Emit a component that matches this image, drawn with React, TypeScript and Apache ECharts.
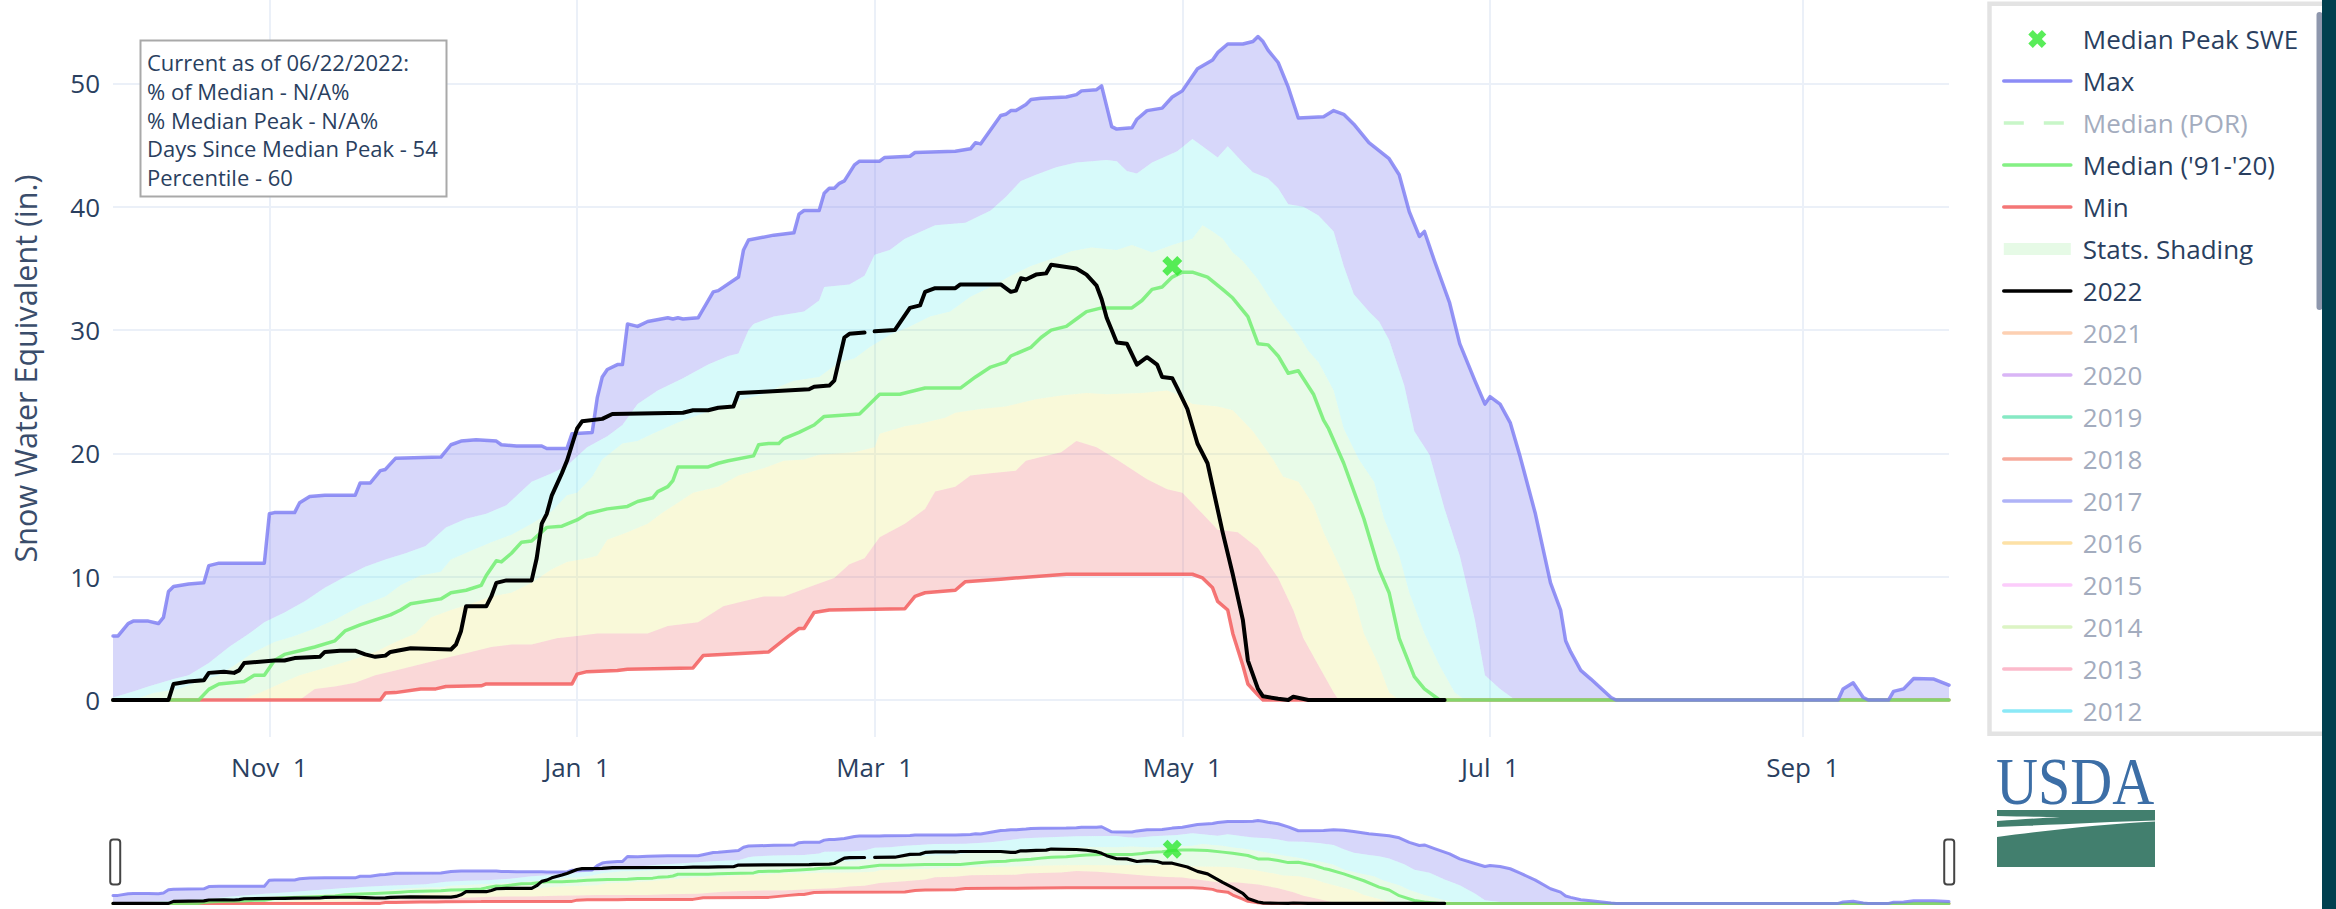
import React, { useEffect, useRef } from 'react';
import * as echarts from 'echarts';

// ---------- categories: every day of water year 2022 (Oct 1 2021 – Sep 30 2022)
const WY_START_UTC = Date.UTC(2021, 9, 1);
const DAY_MS = 86400000;
const dates: string[] = Array.from({ length: 365 }, (_, i) =>
  new Date(WY_START_UTC + i * DAY_MS).toISOString().slice(0, 10)
);

const xTickDates = ['2021-11-01', '2022-01-01', '2022-03-01', '2022-05-01', '2022-07-01', '2022-09-01'];
const xTickLabels = ['Nov\u00a0\u00a01', 'Jan\u00a0\u00a01', 'Mar\u00a0\u00a01', 'May\u00a0\u00a01', 'Jul\u00a0\u00a01', 'Sep\u00a0\u00a01'];
const yTickValues = [0, 10, 20, 30, 40, 50];

// ---------- series: [day index since Oct 1 2021, SWE inches]
const maxSwe: [number, number][] = [
  [0, 5.2], [1, 5.2], [3, 6.2], [4, 6.4], [7, 6.4], [9, 6.2], [10, 6.7], [11, 8.8], [12, 9.2], [15, 9.4], [18, 9.5],
  [19, 10.9], [21, 11.1], [30, 11.1], [31, 15.1], [32, 15.2], [36, 15.2], [37, 16.0], [39, 16.5], [42, 16.6], [48, 16.6],
  [49, 17.6], [51, 17.6], [53, 18.6], [54, 18.7], [56, 19.6], [65, 19.7], [67, 20.7], [69, 21.0], [72, 21.1], [76, 21.0],
  [77, 20.7], [80, 20.6], [85, 20.6], [86, 20.4], [90, 20.4], [91, 21.6], [95, 21.7], [96, 24.5], [97, 26.2], [98, 26.8],
  [100, 27.2], [101, 27.2], [102, 30.5], [104, 30.3], [106, 30.7], [110, 31.0], [111, 30.9], [112, 31.0], [113, 30.9],
  [116, 31.0], [119, 33.1], [120, 33.2], [124, 34.3], [125, 36.5], [126, 37.3], [131, 37.7], [135, 37.9], [136, 39.4],
  [137, 39.7], [140, 39.7], [141, 41.1], [142, 41.5], [143, 41.5], [144, 41.9], [145, 42.1], [147, 43.4], [148, 43.7],
  [152, 43.7], [153, 44.0], [158, 44.1], [159, 44.4], [167, 44.5], [170, 44.7], [171, 45.2], [172, 45.1], [176, 47.4],
  [177, 47.5], [178, 47.8], [179, 47.8], [181, 48.3], [182, 48.7], [184, 48.8], [189, 48.9], [191, 49.1], [192, 49.4],
  [195, 49.5], [196, 49.8], [198, 46.5], [199, 46.3], [202, 46.4], [203, 47.1], [205, 47.8], [208, 48.0], [210, 48.9],
  [212, 49.4], [215, 51.2], [218, 51.9], [219, 52.5], [221, 53.2], [224, 53.2], [226, 53.4], [227, 53.8], [228, 53.4],
  [229, 52.7], [231, 51.7], [233, 49.7], [235, 47.2], [240, 47.3], [242, 47.8], [244, 47.5], [246, 46.7], [249, 45.2],
  [253, 43.9], [255, 42.6], [257, 39.6], [259, 37.6], [260, 38.0], [262, 35.6], [265, 32.2], [267, 28.9], [270, 25.9],
  [272, 24.0], [273, 24.6], [275, 24.0], [277, 22.5], [279, 19.7], [282, 15.1], [285, 9.5], [287, 7.3], [288, 4.8],
  [289, 3.9], [291, 2.4], [293, 1.7], [297, 0.2], [298, 0], [342, 0], [343, 0.9], [345, 1.4], [347, 0.2], [348, 0],
  [352, 0], [353, 0.7], [355, 0.9], [357, 1.75], [361, 1.7], [364, 1.2],
];

const p90Swe: [number, number][] = [
  [0, 0.2], [4, 0.7], [7, 1.1], [12, 1.7], [15, 2.0], [19, 3.0], [23, 4.3], [27, 5.4], [30, 6.3], [34, 7.1], [38, 8.0],
  [42, 9.1], [46, 10.0], [50, 10.8], [54, 11.4], [58, 11.9], [62, 12.5], [66, 14.0], [70, 14.7], [74, 15.1], [78, 15.8],
  [83, 17.7], [87, 18.4], [90, 19.0], [94, 20.5], [98, 21.4], [101, 22.3], [104, 24.0], [108, 25.1], [113, 26.1],
  [118, 27.2], [122, 27.9], [124, 28.1], [126, 30.0], [127, 30.5], [131, 31.1], [137, 31.5], [140, 32.4], [141, 33.5],
  [146, 33.7], [149, 34.4], [151, 36.1], [154, 36.5], [157, 37.4], [163, 38.5], [169, 38.7], [174, 39.7], [177, 40.8],
  [180, 42.1], [183, 42.6], [187, 43.2], [191, 43.6], [197, 43.8], [199, 43.7], [201, 42.9], [203, 42.7], [206, 43.6],
  [211, 44.5], [214, 45.5], [216, 44.9], [219, 44.0], [221, 44.9], [224, 43.6], [226, 42.8], [229, 42.3], [231, 41.5],
  [233, 40.2], [236, 40.0], [239, 39.3], [242, 38.0], [244, 35.2], [246, 32.9], [249, 31.5], [251, 30.7], [253, 29.2],
  [256, 25.5], [258, 21.8], [261, 19.9], [264, 15.5], [267, 11.7], [270, 6.5], [272, 2.0], [275, 0.9], [278, 0], [364, 0],
];

const p70Swe: [number, number][] = [
  [0, 0], [4, 0], [8, 0.56], [13, 0.9], [17, 1.5], [21, 2.0], [24, 2.8], [28, 3.9], [32, 4.7], [36, 5.2], [40, 5.8],
  [44, 6.5], [49, 7.6], [54, 8.4], [57, 9.3], [61, 10.1], [65, 10.4], [67, 11.4], [71, 12.1], [75, 12.8], [79, 13.4],
  [83, 14.3], [87, 15.3], [90, 16.6], [92, 16.8], [95, 18.1], [97, 19.5], [101, 20.8], [104, 21.0], [107, 21.6],
  [112, 22.5], [116, 23.1], [121, 23.8], [125, 24.4], [129, 24.8], [132, 25.4], [135, 25.9], [140, 26.2], [144, 27.4],
  [147, 27.7], [150, 28.6], [154, 29.6], [158, 30.3], [162, 31.1], [166, 31.5], [170, 32.7], [174, 33.5], [178, 34.4],
  [182, 35.2], [187, 35.9], [190, 36.4], [194, 36.7], [199, 36.5], [202, 36.9], [206, 36.3], [210, 36.9], [214, 37.4],
  [216, 38.5], [218, 38.0], [220, 37.4], [222, 36.3], [224, 35.6], [227, 34.1], [230, 32.2], [232, 31.1], [235, 29.6],
  [237, 28.3], [239, 27.4], [242, 25.1], [244, 22.0], [247, 19.5], [250, 17.7], [252, 14.7], [255, 11.7], [257, 8.7],
  [260, 5.4], [263, 2.8], [266, 0.6], [268, 0], [364, 0],
];

const medianSwe: [number, number][] = [
  [0, 0], [17, 0], [19, 0.86], [21, 1.3], [26, 1.5], [28, 2.0], [30, 2.0], [32, 3.2], [34, 3.7], [37, 4.0], [40, 4.3],
  [44, 4.8], [46, 5.6], [49, 6.1], [52, 6.5], [55, 6.9], [57, 7.3], [59, 7.8], [65, 8.2], [67, 8.7], [70, 8.9], [73, 9.3],
  [74, 10.1], [76, 11.3], [77, 11.2], [79, 11.9], [81, 12.8], [83, 12.9], [86, 14.0], [89, 14.1], [92, 14.6], [94, 15.1],
  [98, 15.5], [102, 15.7], [104, 16.1], [107, 16.4], [108, 16.9], [110, 17.3], [111, 17.8], [112, 18.9], [118, 18.9],
  [120, 19.2], [122, 19.4], [127, 19.8], [128, 20.7], [130, 20.8], [132, 20.8], [133, 21.2], [136, 21.7], [139, 22.3],
  [141, 23.0], [148, 23.2], [152, 24.8], [156, 24.8], [161, 25.3], [168, 25.3], [170, 25.9], [171, 26.2], [174, 27.0],
  [177, 27.4], [178, 27.9], [182, 28.6], [184, 29.4], [186, 30.0], [189, 30.3], [191, 30.9], [193, 31.5], [196, 31.8],
  [202, 31.8], [204, 32.4], [206, 33.3], [208, 33.5], [210, 34.3], [212, 34.7], [214, 34.7], [217, 34.3], [220, 33.3],
  [222, 32.6], [225, 31.1], [227, 28.9], [229, 28.8], [231, 27.9], [233, 26.5], [235, 26.7], [238, 24.8], [240, 22.7],
  [241, 22.0], [244, 19.2], [248, 14.7], [251, 10.6], [253, 8.7], [255, 5.0], [258, 1.9], [260, 0.9], [263, 0], [364, 0],
];

const p30Swe: [number, number][] = [
  [0, 0], [25, 0], [29, 0.56], [33, 1.3], [37, 2.0], [42, 2.6], [47, 3.2], [52, 3.9], [56, 4.7], [60, 5.4], [63, 6.7],
  [67, 7.3], [71, 7.8], [75, 8.4], [79, 8.7], [83, 9.5], [87, 10.6], [90, 11.2], [94, 11.5], [96, 11.7], [98, 13.0],
  [102, 13.6], [106, 14.3], [109, 15.2], [112, 16.0], [115, 16.8], [120, 17.3], [124, 18.2], [129, 18.8], [133, 19.4],
  [137, 19.5], [140, 19.9], [147, 20.1], [151, 20.5], [152, 21.6], [157, 22.2], [160, 22.4], [165, 22.9], [167, 23.3],
  [172, 23.6], [177, 23.8], [183, 24.4], [188, 24.7], [193, 24.9], [197, 24.8], [204, 24.9], [209, 25.1], [211, 24.8],
  [214, 24.0], [219, 23.8], [222, 23.5], [226, 21.8], [230, 19.5], [232, 18.1], [235, 17.7], [238, 15.8], [240, 13.6],
  [243, 11.0], [246, 8.4], [248, 5.4], [251, 2.8], [253, 0.6], [255, 0], [364, 0],
];

const p10Swe: [number, number][] = [
  [0, 0], [37, 0], [40, 0.9], [44, 1.1], [48, 1.4], [52, 2.0], [56, 2.4], [60, 2.8], [64, 3.2], [67, 3.5], [71, 3.9],
  [75, 4.3], [79, 4.5], [83, 4.5], [88, 5.0], [92, 5.2], [96, 5.4], [106, 5.4], [110, 6.0], [116, 6.3], [121, 7.6],
  [125, 8.0], [129, 8.4], [133, 8.4], [139, 9.3], [143, 9.9], [146, 11.0], [149, 11.5], [152, 13.2], [157, 14.3],
  [161, 15.5], [163, 16.9], [167, 17.3], [170, 18.2], [174, 18.4], [179, 18.6], [181, 19.4], [184, 19.7], [188, 20.1],
  [191, 21.0], [195, 20.5], [199, 19.5], [205, 17.9], [209, 17.1], [212, 16.8], [216, 15.1], [219, 13.8], [223, 13.6],
  [227, 12.3], [231, 9.9], [234, 7.3], [236, 5.0], [239, 2.8], [242, 0.6], [243, 0], [364, 0],
];

const minSwe: [number, number][] = [
  [0, 0], [53, 0], [54, 0.56], [56, 0.6], [61, 0.9], [64, 0.9], [66, 1.1], [73, 1.15], [74, 1.3], [91, 1.3], [92, 2.1],
  [94, 2.3], [100, 2.4], [102, 2.5], [115, 2.6], [117, 3.6], [130, 3.9], [134, 5.2], [136, 5.8], [137, 5.8], [139, 7.1],
  [142, 7.3], [157, 7.4], [159, 8.4], [161, 8.7], [167, 8.9], [169, 9.6], [176, 9.8], [189, 10.2], [214, 10.2],
  [216, 9.9], [218, 9.1], [219, 8.0], [221, 7.3], [222, 5.4], [224, 2.8], [225, 1.3], [227, 0.4], [228, 0], [364, 0],
];

const wy2022: [number, number | null][] = [
  [0, 0], [11, 0], [12, 1.3], [15, 1.5], [18, 1.6], [19, 2.2], [22, 2.3], [24, 2.2], [25, 2.4], [26, 3.0], [32, 3.2],
  [34, 3.2], [36, 3.4], [41, 3.5], [42, 3.9], [45, 4.0], [48, 4.0], [50, 3.7], [52, 3.5], [54, 3.6], [55, 3.9], [59, 4.2],
  [67, 4.1], [68, 4.5], [69, 5.6], [70, 7.6], [74, 7.6], [75, 8.4], [76, 9.5], [78, 9.7], [83, 9.7], [84, 11.5],
  [85, 14.3], [86, 15.1], [87, 16.6], [89, 18.4], [90, 19.4], [91, 20.7], [92, 22.0], [93, 22.6], [97, 22.8], [99, 23.2],
  [113, 23.3], [115, 23.5], [118, 23.5], [120, 23.7], [123, 23.8], [124, 24.9], [129, 25.0], [138, 25.2], [139, 25.4],
  [142, 25.5], [143, 25.9], [145, 29.4], [146, 29.7], [149, 29.8], [150, null], [151, 29.9], [155, 30.0], [158, 31.8],
  [160, 32.0], [161, 33.1], [163, 33.4], [167, 33.4], [168, 33.7], [176, 33.7], [178, 33.1], [179, 33.2], [180, 34.2],
  [181, 34.1], [183, 34.5], [185, 34.6], [186, 35.3], [191, 35.0], [193, 34.5], [195, 33.6], [196, 32.5], [197, 31.0],
  [198, 30.0], [199, 29.0], [201, 28.9], [203, 27.2], [205, 27.8], [207, 27.2], [208, 26.2], [210, 26.1], [211, 25.3],
  [213, 23.6], [215, 20.8], [217, 19.2], [220, 13.6], [222, 10.2], [224, 6.5], [225, 3.2], [227, 0.9], [228, 0.3],
  [231, 0.1], [233, 0], [234, 0.26], [237, 0], [264, 0],
];

const medianPeak: [number, number][] = [[210, 35.2]];

const annotationLines = [
  'Current as of 06/22/2022:',
  '% of Median - N/A%',
  '% Median Peak - N/A%',
  'Days Since Median Peak - 54',
  'Percentile - 60',
];

const hiddenYears = ['2021', '2020', '2019', '2018', '2017', '2016', '2015', '2014', '2013', '2012'];
const hiddenYearColors = ['#fdd0b2', '#d9b5f6', '#86e9c4', '#f7aa9c', '#afb3f7', '#fde1a6', '#fcccfb', '#dcf4c4', '#fcbacb', '#8be9f7'];

// ---------- styling
const FONT = '"Open Sans", "Noto Sans", sans-serif';
const TEXT = '#2a3f5f';
const GREY_TEXT = '#a3acbe';
const GRID = '#ebf0f8';
const X_SYMBOL = 'path://M0,2.5 L2.5,0 L5,2.5 L7.5,0 L10,2.5 L7.5,5 L10,7.5 L7.5,10 L5,7.5 L2.5,10 L0,7.5 L2.5,5 Z';
const Y_MIN = -3;
const Y_MAX = 56.77;

const bands = [
  { upper: maxSwe, lower: p90Swe, fill: 'rgba(118,118,238,0.29)' },
  { upper: p90Swe, lower: p70Swe, fill: 'rgba(100,235,235,0.26)' },
  { upper: p70Swe, lower: p30Swe, fill: 'rgba(150,235,150,0.22)' },
  { upper: p30Swe, lower: p10Swe, fill: 'rgba(235,235,120,0.28)' },
  { upper: p10Swe, lower: minSwe, fill: 'rgba(235,100,100,0.25)' },
];

const tickIdx = xTickDates.map((d) => dates.indexOf(d));
const isTick = (i: number) => tickIdx.indexOf(i) >= 0;

function bandSeries(name: string, ax: number) {
  return {
    type: 'custom',
    name,
    xAxisIndex: ax,
    yAxisIndex: ax,
    data: bands.map((_, i) => [i, 0]),
    encode: { x: 0, y: 1 },
    itemStyle: { color: '#e6fae6' },
    silent: true,
    z: 1,
    renderItem: (params: any, api: any) => {
      const b = bands[params.dataIndex];
      const pts: number[][] = [];
      b.upper.forEach((p) => pts.push(api.coord(p)));
      for (let i = b.lower.length - 1; i >= 0; i--) pts.push(api.coord(b.lower[i]));
      return { type: 'polygon', shape: { points: pts }, style: { fill: b.fill } };
    },
  };
}

function lineSeries(name: string, data: any[], color: string, width: number, opacity: number, ax: number, z: number) {
  return {
    type: 'line',
    name,
    data,
    xAxisIndex: ax,
    yAxisIndex: ax,
    symbol: 'none',
    showSymbol: false,
    connectNulls: false,
    silent: true,
    z,
    itemStyle: { color },
    lineStyle: { color, width, opacity, join: 'round', cap: 'round' },
  };
}

function peakSeries(name: string, ax: number, size: number) {
  return {
    type: 'scatter',
    name,
    data: medianPeak,
    xAxisIndex: ax,
    yAxisIndex: ax,
    symbol: X_SYMBOL,
    symbolSize: size,
    silent: true,
    z: 10,
    itemStyle: { color: '#30e830' },
  };
}

const GreenSwoosh1 = echarts.graphic.extendPath('M0,6 C25,6.5 45,7 63,7 C45,8 25,9.5 0,11 Z', {});
const GreenSwoosh2 = echarts.graphic.extendPath('M0,17 C50,15 110,12 158,10.5 L158,11.5 C110,14 50,20 0,27 Z', {});
echarts.graphic.registerShape('usdaSwoosh1', GreenSwoosh1);
echarts.graphic.registerShape('usdaSwoosh2', GreenSwoosh2);

const lineLegend = (name: string, color: string, textColor?: string) => ({
  name,
  itemStyle: { opacity: 0 },
  lineStyle: { color, width: 3.6, opacity: 1 },
  ...(textColor ? { textStyle: { color: textColor } } : {}),
});

export default function App() {
  const ref = useRef<HTMLDivElement>(null);

  useEffect(() => {
    document.body.style.margin = '0';
    document.body.style.overflow = 'hidden';
    if (!ref.current) return;
    const chart = echarts.init(ref.current, null, { renderer: 'svg' });

    const legendData: any[] = [
      { name: 'Median Peak SWE' },
      lineLegend('Max', '#8c8cf6'),
      { ...lineLegend('Median (POR)', '#c8f6c8', GREY_TEXT), lineStyle: { color: '#c8f6c8', width: 3.6, opacity: 1, type: [20, 20] } },
      lineLegend("Median ('91-'20)", '#84f084'),
      lineLegend('Min', '#f47676'),
      { name: 'Stats. Shading', icon: 'path://M0,0H67V12H0Z' },
      lineLegend('2022', '#000000'),
      ...hiddenYears.map((y, i) => lineLegend(y, hiddenYearColors[i], GREY_TEXT)),
    ];

    const annotationEls: any[] = [
      {
        type: 'rect',
        z: 30,
        shape: { x: 140.5, y: 40.5, width: 306, height: 156 },
        style: { fill: '#ffffff', stroke: '#a9a9a9', lineWidth: 2 },
        silent: true,
      },
      ...annotationLines.map((t, i) => ({
        type: 'text',
        z: 31,
        x: 147,
        y: 62 + i * 28.8,
        silent: true,
        style: { text: t, fill: TEXT, fontSize: 22, fontFamily: FONT, align: 'left', verticalAlign: 'middle' },
      })),
    ];

    const option: any = {
      animation: false,
      backgroundColor: '#ffffff',
      textStyle: { fontFamily: FONT },
      grid: [
        { left: 113, top: 0, width: 1836, height: 737, outerBoundsMode: 'none', containLabel: false },
        { left: 113, top: 816, width: 1836, height: 92, outerBoundsMode: 'none', containLabel: false },
      ],
      xAxis: [
        {
          type: 'category',
          gridIndex: 0,
          data: dates,
          boundaryGap: false,
          axisLine: { show: false },
          axisTick: { show: false, interval: (i: number) => isTick(i) },
          axisLabel: {
            interval: (i: number) => isTick(i),
            formatter: (_v: string, i: number) => xTickLabels[tickIdx.indexOf(i)] ?? '',
            color: TEXT,
            fontSize: 26,
            fontFamily: FONT,
            margin: 17,
          },
          splitLine: { show: true, interval: (i: number) => isTick(i), lineStyle: { color: GRID, width: 2 } },
        },
        {
          type: 'category',
          gridIndex: 1,
          data: dates,
          boundaryGap: false,
          show: false,
        },
      ],
      yAxis: [
        {
          type: 'value',
          gridIndex: 0,
          min: Y_MIN,
          max: Y_MAX,
          splitNumber: 5,
          axisLine: { show: false },
          axisTick: { show: false },
          axisLabel: {
            showMinLabel: false,
            showMaxLabel: false,
            formatter: (v: number) => (yTickValues.indexOf(Math.round(v)) >= 0 && Math.abs(v - Math.round(v)) < 1e-6 ? String(Math.round(v)) : ''),
            color: TEXT,
            fontSize: 26,
            fontFamily: FONT,
            margin: 13,
          },
          splitLine: { show: true, showMinLine: false, showMaxLine: false, lineStyle: { color: GRID, width: 2 } },
          name: 'Snow Water Equivalent (in.)',
          nameLocation: 'middle',
          nameGap: 73,
          nameRotate: 90,
          nameTextStyle: { color: '#3a4d6b', fontSize: 30.5, fontFamily: FONT },
        },
        {
          type: 'value',
          gridIndex: 1,
          min: Y_MIN,
          max: Y_MAX,
          show: false,
          splitLine: { show: false },
        },
      ],
      dataZoom: [
        {
          type: 'slider',
          xAxisIndex: 0,
          filterMode: 'none',
          start: 0,
          end: 100,
          left: 113,
          width: 1836,
          top: 816,
          height: 92,
          realtime: false,
          zoomLock: true,
          showDetail: false,
          showDataShadow: false,
          brushSelect: false,
          moveHandleSize: 0,
          backgroundColor: 'rgba(0,0,0,0)',
          borderColor: 'rgba(0,0,0,0)',
          fillerColor: 'rgba(0,0,0,0)',
          dataBackground: { lineStyle: { opacity: 0 }, areaStyle: { opacity: 0 } },
          selectedDataBackground: { lineStyle: { opacity: 0 }, areaStyle: { opacity: 0 } },
          handleIcon: 'path://M3,0 H7 A3,3 0 0 1 10,3 V42 A3,3 0 0 1 7,45 H3 A3,3 0 0 1 0,42 V3 A3,3 0 0 1 3,0 Z',
          handleSize: 45,
          handleStyle: { color: '#ffffff', borderColor: '#444444', borderWidth: 2 },
          moveHandleStyle: { opacity: 0 },
          emphasis: { handleStyle: { color: '#ffffff', borderColor: '#444444', borderWidth: 2 }, moveHandleStyle: { opacity: 0 } },
        },
      ],
      legend: {
        orient: 'vertical',
        left: 2002,
        top: 24,
        padding: 0,
        itemWidth: 67,
        itemHeight: 18,
        itemGap: 12,
        selectedMode: false,
        textStyle: { color: TEXT, fontSize: 26, fontFamily: FONT, lineHeight: 30, padding: [0, 0, 0, 7] },
        data: legendData,
      },
      series: [
        // main plot
        bandSeries('Stats. Shading', 0),
        lineSeries('Min', minSwe, '#f25555', 3.5, 0.8, 0, 3),
        lineSeries("Median ('91-'20)", medianSwe, '#6aee6a', 3.5, 0.8, 0, 4),
        lineSeries('Max', maxSwe, '#7a7af3', 3.5, 0.8, 0, 5),
        lineSeries('2022', wy2022, '#000000', 4, 1, 0, 6),
        peakSeries('Median Peak SWE', 0, 20),
        // legend-only traces
        {
          ...lineSeries('Median (POR)', [], '#c4f5c4', 3.5, 1, 0, 2),
          lineStyle: { color: '#c4f5c4', width: 3.5, type: [20, 20] },
        },
        ...hiddenYears.map((y, i) => lineSeries(y, [], hiddenYearColors[i], 3.5, 1, 0, 2)),
        // range slider preview
        bandSeries('_mini_shading', 1),
        lineSeries('_mini_min', minSwe, '#f25555', 3, 0.8, 1, 3),
        lineSeries('_mini_median', medianSwe, '#6aee6a', 3, 0.8, 1, 4),
        lineSeries('_mini_max', maxSwe, '#7a7af3', 3, 0.8, 1, 5),
        lineSeries('_mini_2022', wy2022, '#000000', 3.2, 1, 1, 6),
        peakSeries('_mini_peak', 1, 19),
      ],
      graphic: [
        // legend frame
        {
          type: 'rect',
          z: -5,
          shape: { x: 1989.5, y: 3.8, width: 345, height: 730 },
          style: { fill: '#ffffff', stroke: '#e3e3e3', lineWidth: 4.5 },
          silent: true,
        },
        // legend scrollbar
        {
          type: 'rect',
          z: 50,
          shape: { x: 2316.5, y: 12, width: 6, height: 298, r: 3 },
          style: { fill: '#8e97ad' },
          silent: true,
        },
        // page side band
        {
          type: 'rect',
          z: 60,
          shape: { x: 2322, y: 0, width: 14, height: 909 },
          style: { fill: '#00404f' },
          silent: true,
        },
        // annotation box
        ...annotationEls,
        // USDA logo
        {
          type: 'text',
          z: 20,
          x: 1996,
          y: 781,
          scaleX: 0.855,
          silent: true,
          style: {
            text: 'USDA',
            fill: '#3c6ea6',
            fontSize: 68,
            fontFamily: '"Liberation Serif", "DejaVu Serif", serif',
            align: 'left',
            verticalAlign: 'middle',
          },
        },
        { type: 'rect', z: 20, shape: { x: 1997, y: 810, width: 158, height: 57 }, style: { fill: '#427f6e' }, silent: true },
        { type: 'usdaSwoosh1', z: 21, x: 1997, y: 810, style: { fill: '#ffffff' }, silent: true },
        { type: 'usdaSwoosh2', z: 21, x: 1997, y: 810, style: { fill: '#ffffff' }, silent: true },
      ],
    };

    chart.setOption(option);
    return () => chart.dispose();
  }, []);

  return <div ref={ref} style={{ width: 2336, height: 909 }} />;
}
